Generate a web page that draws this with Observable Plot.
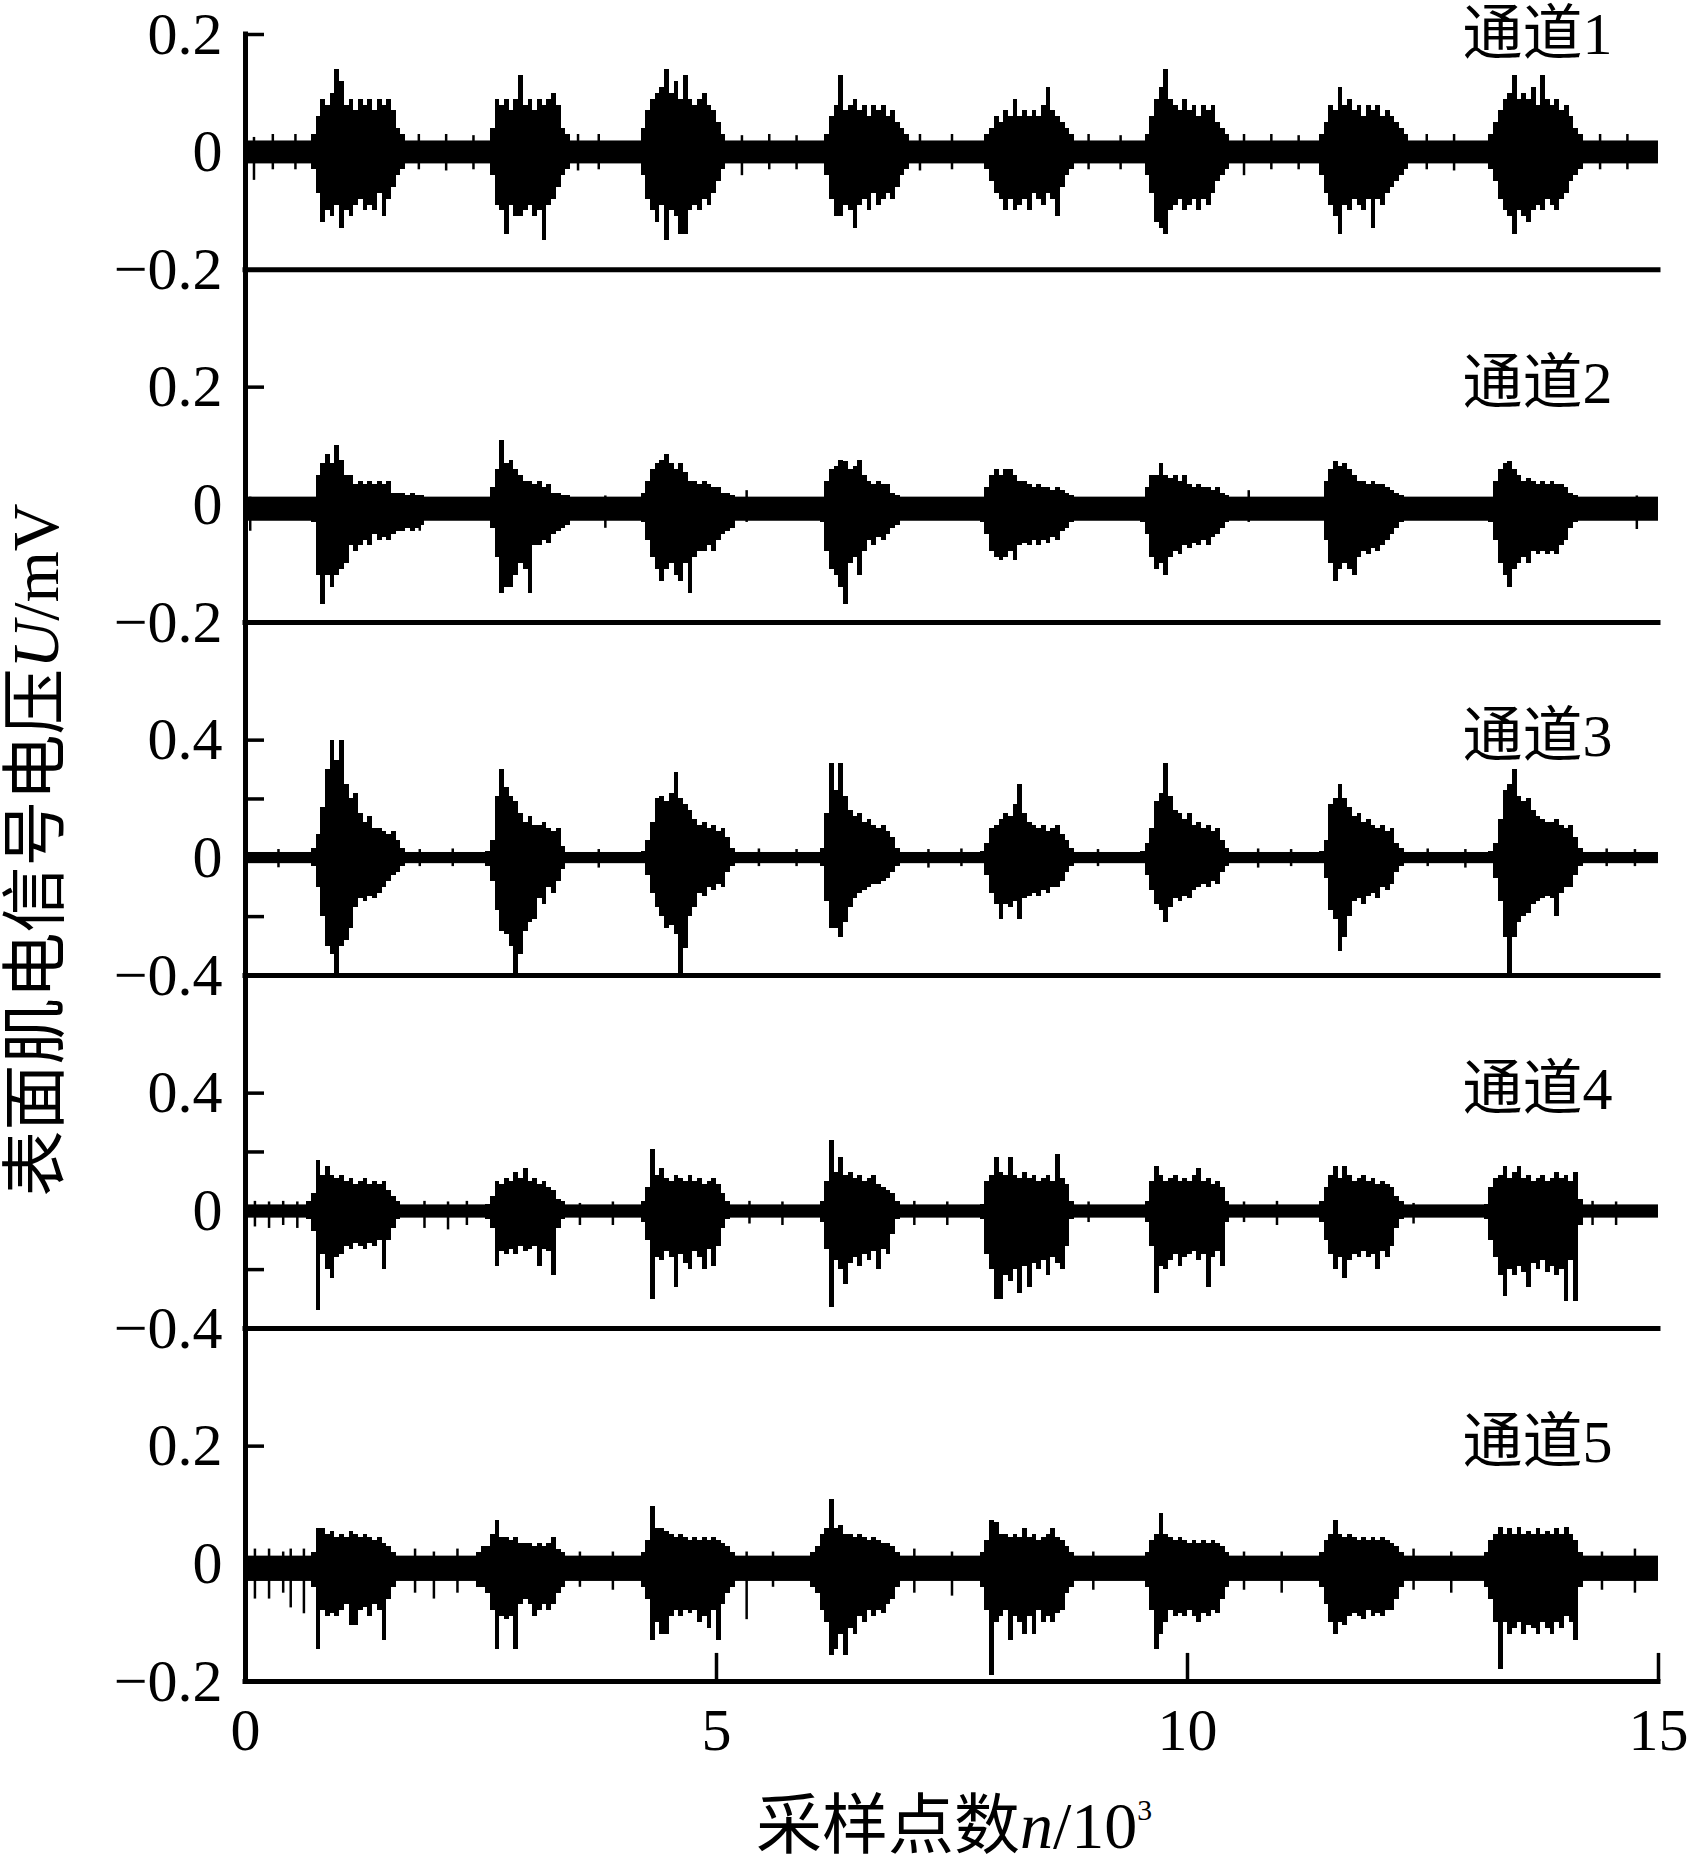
<!DOCTYPE html>
<html><head><meta charset="utf-8">
<script src="https://cdn.jsdelivr.net/npm/d3@7"></script>
<script src="https://cdn.jsdelivr.net/npm/@observablehq/plot@0.6"></script>
<style>
html,body{margin:0;padding:0;background:#fff;}
#chart{position:relative;width:1689px;height:1861px;overflow:hidden;background:#fff;}
#chart svg{position:absolute;left:0;overflow:visible;}
.title{position:absolute;white-space:nowrap;color:#000;font-family:'Liberation Serif','Noto Sans CJK SC',serif;font-size:66px;line-height:1;}
</style></head>
<body><div id="chart"></div>
<script>
// ---------- data (x in 10^3 samples, y in mV) ----------
const binWidth = 0.05;               // reading resolution of the envelope
const xDomain = [0, 15];
const xTicks = [0, 5, 10, 15];
const channelNames = ["通道1", "通道2", "通道3", "通道4", "通道5"];
const yDomains = [[-0.2, 0.2], [-0.2, 0.4], [-0.4, 0.8], [-0.4, 0.8], [-0.2, 0.4]];
const yTickLabels = [[-0.2, 0, 0.2], [-0.2, 0, 0.2], [-0.4, 0, 0.4], [-0.4, 0, 0.4], [-0.2, 0, 0.2]];
const yMinorTicks = [[], [], [-0.2, 0.2], [-0.2, 0.2], []];
const nameLevel = [0.2, 0.2, 0.4, 0.4, 0.2];

// channel 1
const ch1Base = [-0.02, 0.019];
const ch1Starts = [0.70, 2.60, 4.20, 6.15, 7.85, 9.55, 11.40, 13.20];
const ch1Hi = [
 [0.03,0.06,0.09,0.08,0.10,0.14,0.12,0.08,0.09,0.07,0.09,0.08,0.09,0.07,0.09,0.08,0.09,0.07,0.04,0.03],
 [0.04,0.09,0.08,0.09,0.07,0.09,0.13,0.08,0.09,0.07,0.09,0.08,0.09,0.10,0.08,0.04,0.03],
 [0.04,0.07,0.09,0.10,0.11,0.14,0.10,0.12,0.09,0.13,0.09,0.08,0.09,0.10,0.08,0.07,0.05,0.03],
 [0.03,0.06,0.08,0.13,0.07,0.08,0.09,0.07,0.08,0.06,0.08,0.07,0.08,0.06,0.07,0.05,0.04,0.03],
 [0.03,0.04,0.06,0.05,0.07,0.06,0.09,0.06,0.07,0.06,0.07,0.06,0.08,0.11,0.07,0.06,0.05,0.04,0.03],
 [0.03,0.06,0.09,0.11,0.14,0.09,0.08,0.07,0.09,0.07,0.08,0.06,0.08,0.07,0.08,0.05,0.04,0.03],
 [0.03,0.05,0.08,0.07,0.11,0.08,0.09,0.07,0.08,0.06,0.08,0.07,0.08,0.06,0.07,0.06,0.05,0.04,0.03],
 [0.03,0.05,0.07,0.09,0.10,0.13,0.09,0.10,0.09,0.11,0.08,0.13,0.09,0.08,0.09,0.07,0.08,0.06,0.04,0.03]
];
const ch1Lo = [
 [-0.03,-0.07,-0.12,-0.10,-0.11,-0.09,-0.13,-0.10,-0.11,-0.09,-0.08,-0.10,-0.09,-0.10,-0.07,-0.11,-0.08,-0.06,-0.04,-0.03],
 [-0.04,-0.09,-0.10,-0.14,-0.09,-0.11,-0.11,-0.10,-0.09,-0.11,-0.10,-0.15,-0.09,-0.08,-0.06,-0.04,-0.03],
 [-0.04,-0.08,-0.10,-0.12,-0.09,-0.15,-0.10,-0.11,-0.14,-0.14,-0.10,-0.09,-0.10,-0.08,-0.09,-0.07,-0.05,-0.03],
 [-0.04,-0.08,-0.11,-0.11,-0.09,-0.10,-0.13,-0.09,-0.08,-0.10,-0.07,-0.09,-0.08,-0.07,-0.08,-0.06,-0.04,-0.03],
 [-0.03,-0.05,-0.07,-0.08,-0.10,-0.08,-0.10,-0.09,-0.08,-0.10,-0.07,-0.08,-0.09,-0.07,-0.08,-0.11,-0.06,-0.04,-0.03],
 [-0.04,-0.07,-0.12,-0.13,-0.14,-0.10,-0.09,-0.08,-0.10,-0.09,-0.08,-0.10,-0.08,-0.09,-0.07,-0.05,-0.04,-0.03],
 [-0.04,-0.07,-0.09,-0.11,-0.14,-0.09,-0.10,-0.08,-0.09,-0.10,-0.08,-0.13,-0.08,-0.09,-0.07,-0.06,-0.05,-0.04,-0.03],
 [-0.03,-0.05,-0.08,-0.10,-0.11,-0.14,-0.10,-0.11,-0.12,-0.10,-0.09,-0.10,-0.08,-0.09,-0.10,-0.08,-0.07,-0.05,-0.04,-0.03]
];
const ch1Spikes = [[0.09,0.025,-0.048],[0.29,0.03,-0.03],[0.53,0.03,-0.03],[1.84,0.03,-0.03],[2.13,0.03,-0.032],[2.42,0.028,-0.03],[3.53,0.03,-0.032],[3.75,0.03,-0.03],[5.27,0.028,-0.04],[5.56,0.03,-0.03],[5.85,0.028,-0.03],[7.16,0.03,-0.032],[7.50,0.03,-0.03],[8.95,0.03,-0.03],[9.29,0.028,-0.03],[10.60,0.03,-0.04],[10.89,0.03,-0.03],[11.18,0.028,-0.03],[12.54,0.03,-0.03],[12.83,0.03,-0.032],[14.38,0.03,-0.03],[14.67,0.03,-0.03]];

// channel 2
const ch2Base = [-0.028, 0.013];
const ch2Starts = [0.70, 2.55, 4.20, 6.10, 7.80, 9.50, 11.40, 13.20];
const ch2Hi = [
 [0.01,0.05,0.07,0.085,0.07,0.10,0.075,0.05,0.05,0.035,0.04,0.035,0.04,0.035,0.04,0.035,0.04,0.02,0.02,0.02,0.015,0.02,0.015,0.015],
 [0.01,0.03,0.06,0.11,0.07,0.075,0.06,0.05,0.04,0.04,0.035,0.04,0.03,0.035,0.02,0.02,0.015,0.015],
 [0.02,0.04,0.06,0.07,0.075,0.085,0.07,0.06,0.07,0.055,0.04,0.04,0.035,0.04,0.035,0.03,0.03,0.02,0.02,0.015],
 [0.01,0.04,0.06,0.065,0.075,0.074,0.06,0.065,0.075,0.05,0.04,0.035,0.04,0.035,0.035,0.02,0.015],
 [0.01,0.03,0.05,0.06,0.05,0.06,0.06,0.05,0.04,0.04,0.035,0.03,0.035,0.03,0.03,0.025,0.03,0.025,0.02,0.015],
 [0.01,0.03,0.05,0.05,0.07,0.05,0.045,0.05,0.04,0.05,0.035,0.03,0.035,0.03,0.03,0.025,0.03,0.02,0.015],
 [0.01,0.04,0.06,0.074,0.065,0.07,0.06,0.05,0.04,0.04,0.035,0.04,0.035,0.035,0.03,0.025,0.02,0.015],
 [0.01,0.04,0.06,0.07,0.074,0.06,0.05,0.04,0.045,0.04,0.035,0.04,0.035,0.04,0.035,0.035,0.03,0.02,0.015]
];
const ch2Lo = [
 [-0.03,-0.12,-0.17,-0.12,-0.14,-0.12,-0.11,-0.10,-0.07,-0.08,-0.07,-0.06,-0.07,-0.05,-0.06,-0.055,-0.06,-0.05,-0.045,-0.045,-0.04,-0.045,-0.04,-0.035],
 [-0.02,-0.04,-0.09,-0.15,-0.14,-0.14,-0.12,-0.10,-0.11,-0.15,-0.07,-0.07,-0.06,-0.065,-0.05,-0.045,-0.04,-0.035],
 [-0.03,-0.06,-0.09,-0.11,-0.13,-0.11,-0.10,-0.12,-0.13,-0.10,-0.15,-0.09,-0.08,-0.08,-0.07,-0.08,-0.06,-0.05,-0.045,-0.04],
 [-0.03,-0.08,-0.11,-0.12,-0.14,-0.17,-0.10,-0.09,-0.12,-0.08,-0.06,-0.07,-0.055,-0.06,-0.05,-0.04,-0.035],
 [-0.03,-0.05,-0.08,-0.09,-0.095,-0.09,-0.08,-0.095,-0.07,-0.065,-0.07,-0.06,-0.07,-0.06,-0.065,-0.055,-0.06,-0.045,-0.04,-0.03],
 [-0.03,-0.05,-0.09,-0.11,-0.10,-0.12,-0.09,-0.08,-0.085,-0.07,-0.075,-0.065,-0.07,-0.06,-0.07,-0.055,-0.05,-0.04,-0.03],
 [-0.02,-0.06,-0.10,-0.13,-0.11,-0.10,-0.11,-0.12,-0.09,-0.08,-0.085,-0.075,-0.08,-0.07,-0.06,-0.05,-0.04,-0.03],
 [-0.03,-0.06,-0.10,-0.12,-0.14,-0.11,-0.10,-0.09,-0.10,-0.08,-0.085,-0.08,-0.085,-0.08,-0.085,-0.07,-0.06,-0.04,-0.03]
];
const ch2Spikes = [[0.05,0.013,-0.045],[1.85,0.015,-0.045],[3.82,0.015,-0.04],[5.32,0.024,-0.03],[10.65,0.024,-0.03],[14.77,0.015,-0.042]];

// channel 3
const ch3Base = [-0.02, 0.018];
const ch3Starts = [0.70, 2.55, 4.20, 6.10, 7.80, 9.50, 11.40, 13.20];
const ch3Hi = [
 [0.03,0.08,0.17,0.30,0.40,0.33,0.40,0.25,0.20,0.22,0.15,0.12,0.14,0.10,0.10,0.09,0.08,0.09,0.06,0.03],
 [0.02,0.06,0.21,0.30,0.24,0.21,0.19,0.15,0.12,0.14,0.11,0.11,0.12,0.10,0.09,0.10,0.04],
 [0.02,0.06,0.12,0.20,0.21,0.19,0.22,0.29,0.20,0.18,0.16,0.13,0.11,0.12,0.10,0.11,0.09,0.10,0.07,0.03],
 [0.03,0.15,0.32,0.23,0.32,0.21,0.16,0.14,0.15,0.12,0.13,0.11,0.10,0.11,0.09,0.07,0.03],
 [0.02,0.05,0.10,0.11,0.13,0.15,0.14,0.18,0.25,0.15,0.12,0.11,0.10,0.11,0.09,0.10,0.11,0.08,0.06,0.03],
 [0.02,0.05,0.10,0.19,0.22,0.32,0.21,0.16,0.15,0.13,0.15,0.11,0.12,0.10,0.11,0.09,0.10,0.06,0.03],
 [0.02,0.06,0.18,0.20,0.25,0.20,0.17,0.14,0.15,0.12,0.13,0.11,0.10,0.11,0.09,0.10,0.05,0.03],
 [0.02,0.05,0.13,0.23,0.25,0.30,0.21,0.19,0.20,0.16,0.14,0.13,0.12,0.12,0.13,0.11,0.10,0.11,0.07,0.03]
];
const ch3Lo = [
 [-0.03,-0.10,-0.20,-0.30,-0.33,-0.40,-0.30,-0.28,-0.24,-0.17,-0.14,-0.15,-0.13,-0.14,-0.12,-0.10,-0.08,-0.06,-0.05,-0.03],
 [-0.03,-0.08,-0.18,-0.25,-0.26,-0.30,-0.40,-0.33,-0.25,-0.22,-0.21,-0.14,-0.16,-0.10,-0.12,-0.08,-0.04],
 [-0.02,-0.06,-0.12,-0.17,-0.20,-0.24,-0.23,-0.26,-0.40,-0.31,-0.20,-0.17,-0.12,-0.13,-0.10,-0.11,-0.09,-0.10,-0.05,-0.03],
 [-0.03,-0.15,-0.24,-0.24,-0.27,-0.22,-0.17,-0.14,-0.12,-0.11,-0.10,-0.09,-0.09,-0.08,-0.07,-0.05,-0.03],
 [-0.02,-0.06,-0.12,-0.16,-0.21,-0.16,-0.17,-0.15,-0.21,-0.14,-0.13,-0.12,-0.13,-0.11,-0.12,-0.10,-0.10,-0.08,-0.05,-0.03],
 [-0.02,-0.06,-0.11,-0.16,-0.18,-0.22,-0.17,-0.14,-0.15,-0.13,-0.14,-0.11,-0.10,-0.09,-0.10,-0.08,-0.09,-0.05,-0.03],
 [-0.02,-0.07,-0.18,-0.21,-0.32,-0.27,-0.20,-0.15,-0.14,-0.16,-0.13,-0.12,-0.14,-0.10,-0.11,-0.09,-0.05,-0.03],
 [-0.02,-0.07,-0.15,-0.27,-0.40,-0.27,-0.22,-0.20,-0.19,-0.16,-0.15,-0.14,-0.13,-0.14,-0.20,-0.12,-0.10,-0.10,-0.06,-0.03]
];
const ch3Spikes = [[0.35,0.028,-0.034],[1.85,0.028,-0.03],[2.20,0.03,-0.03],[3.75,0.028,-0.035],[5.45,0.03,-0.03],[5.85,0.028,-0.03],[7.25,0.028,-0.035],[7.60,0.03,-0.03],[9.05,0.028,-0.03],[10.75,0.03,-0.035],[11.10,0.028,-0.03],[12.55,0.03,-0.03],[12.95,0.028,-0.035],[14.45,0.03,-0.03],[14.75,0.028,-0.03]];

// channel 4
const ch4Base = [-0.025, 0.02];
const ch4Starts = [0.65, 2.55, 4.20, 6.10, 7.80, 9.55, 11.40, 13.15];
const ch4Hi = [
 [0.03,0.06,0.17,0.12,0.15,0.12,0.11,0.12,0.10,0.11,0.09,0.10,0.11,0.09,0.10,0.09,0.10,0.07,0.05,0.03],
 [0.02,0.05,0.10,0.09,0.11,0.10,0.13,0.11,0.145,0.10,0.11,0.09,0.10,0.08,0.07,0.04,0.03],
 [0.03,0.08,0.21,0.12,0.145,0.11,0.10,0.12,0.11,0.10,0.12,0.10,0.11,0.09,0.10,0.11,0.09,0.06,0.03],
 [0.03,0.10,0.24,0.13,0.18,0.12,0.13,0.11,0.12,0.10,0.11,0.12,0.09,0.08,0.07,0.06,0.03],
 [0.02,0.10,0.12,0.18,0.13,0.12,0.18,0.12,0.11,0.13,0.11,0.12,0.10,0.11,0.12,0.10,0.19,0.11,0.09,0.03],
 [0.03,0.10,0.15,0.12,0.10,0.11,0.12,0.10,0.11,0.10,0.12,0.145,0.10,0.11,0.09,0.10,0.08,0.03],
 [0.03,0.08,0.12,0.15,0.11,0.15,0.12,0.10,0.11,0.12,0.10,0.11,0.09,0.10,0.09,0.08,0.05,0.03],
 [0.02,0.08,0.11,0.12,0.15,0.11,0.13,0.15,0.11,0.12,0.10,0.11,0.12,0.10,0.11,0.13,0.11,0.12,0.10,0.13,0.04]
];
const ch4Lo = [
 [-0.03,-0.07,-0.34,-0.15,-0.20,-0.23,-0.16,-0.15,-0.12,-0.13,-0.11,-0.12,-0.13,-0.11,-0.12,-0.10,-0.20,-0.10,-0.06,-0.03],
 [-0.03,-0.06,-0.19,-0.14,-0.15,-0.13,-0.15,-0.12,-0.14,-0.13,-0.12,-0.19,-0.13,-0.14,-0.22,-0.06,-0.03],
 [-0.04,-0.10,-0.30,-0.16,-0.17,-0.14,-0.16,-0.26,-0.15,-0.18,-0.20,-0.14,-0.16,-0.20,-0.13,-0.19,-0.12,-0.06,-0.03],
 [-0.04,-0.13,-0.33,-0.17,-0.20,-0.25,-0.18,-0.16,-0.19,-0.15,-0.17,-0.14,-0.20,-0.13,-0.15,-0.08,-0.03],
 [-0.03,-0.15,-0.20,-0.30,-0.30,-0.22,-0.24,-0.20,-0.28,-0.19,-0.26,-0.18,-0.20,-0.17,-0.22,-0.16,-0.18,-0.20,-0.12,-0.03],
 [-0.04,-0.12,-0.28,-0.19,-0.20,-0.17,-0.15,-0.19,-0.16,-0.15,-0.14,-0.17,-0.15,-0.26,-0.16,-0.14,-0.19,-0.04],
 [-0.04,-0.10,-0.15,-0.20,-0.16,-0.23,-0.17,-0.15,-0.16,-0.14,-0.16,-0.15,-0.20,-0.14,-0.16,-0.12,-0.06,-0.03],
 [-0.03,-0.10,-0.16,-0.22,-0.29,-0.20,-0.22,-0.19,-0.21,-0.26,-0.18,-0.20,-0.17,-0.21,-0.19,-0.22,-0.20,-0.31,-0.17,-0.31,-0.05]
];
const ch4Spikes = [[0.10,0.032,-0.055],[0.25,0.03,-0.06],[0.40,0.032,-0.05],[0.55,0.03,-0.06],[1.90,0.032,-0.06],[2.15,0.03,-0.065],[2.35,0.032,-0.05],[3.55,0.025,-0.05],[3.90,0.03,-0.05],[5.35,0.032,-0.045],[5.70,0.03,-0.05],[7.10,0.032,-0.05],[7.45,0.03,-0.05],[8.95,0.03,-0.04],[10.60,0.03,-0.04],[10.95,0.032,-0.05],[12.40,0.025,-0.045],[14.30,0.032,-0.05],[14.55,0.03,-0.05]];

// channel 5
const ch5Base = [-0.03, 0.013];
const ch5Starts = [0.70, 2.45, 4.20, 6.00, 7.80, 9.55, 11.40, 13.15];
const ch5Hi = [
 [0.02,0.06,0.06,0.05,0.055,0.045,0.05,0.045,0.055,0.05,0.045,0.05,0.045,0.04,0.045,0.035,0.03,0.02],
 [0.02,0.03,0.03,0.05,0.074,0.045,0.045,0.04,0.045,0.035,0.035,0.035,0.03,0.035,0.03,0.035,0.045,0.025,0.02],
 [0.02,0.04,0.098,0.06,0.06,0.055,0.05,0.045,0.05,0.045,0.04,0.045,0.04,0.045,0.04,0.045,0.04,0.035,0.03,0.02],
 [0.02,0.03,0.05,0.06,0.11,0.06,0.065,0.05,0.05,0.045,0.05,0.045,0.04,0.045,0.04,0.035,0.035,0.03,0.02],
 [0.02,0.04,0.074,0.07,0.05,0.05,0.045,0.05,0.045,0.06,0.045,0.05,0.04,0.045,0.05,0.06,0.045,0.04,0.03,0.02],
 [0.02,0.04,0.05,0.085,0.05,0.045,0.04,0.045,0.04,0.035,0.04,0.035,0.04,0.035,0.04,0.035,0.03,0.02],
 [0.02,0.04,0.05,0.074,0.05,0.045,0.05,0.045,0.04,0.045,0.04,0.045,0.04,0.045,0.04,0.035,0.03,0.02],
 [0.02,0.04,0.05,0.062,0.05,0.06,0.05,0.062,0.05,0.055,0.05,0.06,0.05,0.055,0.05,0.06,0.05,0.062,0.05,0.04,0.02]
];
const ch5Lo = [
 [-0.04,-0.145,-0.08,-0.09,-0.085,-0.09,-0.08,-0.07,-0.105,-0.105,-0.08,-0.075,-0.09,-0.07,-0.08,-0.13,-0.06,-0.04],
 [-0.04,-0.04,-0.05,-0.08,-0.145,-0.09,-0.095,-0.09,-0.145,-0.07,-0.06,-0.07,-0.09,-0.08,-0.07,-0.08,-0.07,-0.05,-0.04],
 [-0.04,-0.06,-0.13,-0.10,-0.12,-0.12,-0.09,-0.08,-0.09,-0.08,-0.085,-0.08,-0.10,-0.09,-0.11,-0.08,-0.13,-0.07,-0.05,-0.04],
 [-0.04,-0.05,-0.08,-0.10,-0.156,-0.145,-0.12,-0.156,-0.11,-0.12,-0.09,-0.10,-0.08,-0.09,-0.08,-0.085,-0.07,-0.06,-0.04],
 [-0.04,-0.08,-0.19,-0.10,-0.09,-0.08,-0.13,-0.09,-0.10,-0.12,-0.09,-0.12,-0.08,-0.10,-0.09,-0.10,-0.085,-0.08,-0.05,-0.04],
 [-0.04,-0.08,-0.145,-0.12,-0.10,-0.08,-0.09,-0.085,-0.09,-0.08,-0.09,-0.10,-0.085,-0.09,-0.08,-0.085,-0.06,-0.04],
 [-0.04,-0.07,-0.10,-0.12,-0.10,-0.105,-0.09,-0.085,-0.09,-0.095,-0.08,-0.09,-0.085,-0.09,-0.08,-0.08,-0.06,-0.04],
 [-0.04,-0.06,-0.10,-0.18,-0.10,-0.12,-0.11,-0.10,-0.12,-0.105,-0.11,-0.12,-0.10,-0.11,-0.12,-0.10,-0.11,-0.09,-0.10,-0.13,-0.04]
];
const ch5Spikes = [[0.10,0.025,-0.06],[0.25,0.025,-0.06],[0.40,0.02,-0.05],[0.48,0.025,-0.075],[0.62,0.025,-0.085],[1.80,0.025,-0.05],[2.00,0.02,-0.06],[2.25,0.025,-0.05],[3.55,0.02,-0.04],[3.90,0.02,-0.045],[5.32,0.02,-0.095],[5.60,0.02,-0.04],[7.10,0.025,-0.05],[7.50,0.02,-0.055],[9.00,0.02,-0.045],[10.60,0.02,-0.045],[11.00,0.02,-0.05],[12.40,0.025,-0.045],[12.80,0.02,-0.05],[14.40,0.02,-0.045],[14.75,0.025,-0.05]];

const channels = [
  {base: ch1Base, starts: ch1Starts, hi: ch1Hi, lo: ch1Lo, spikes: ch1Spikes},
  {base: ch2Base, starts: ch2Starts, hi: ch2Hi, lo: ch2Lo, spikes: ch2Spikes},
  {base: ch3Base, starts: ch3Starts, hi: ch3Hi, lo: ch3Lo, spikes: ch3Spikes},
  {base: ch4Base, starts: ch4Starts, hi: ch4Hi, lo: ch4Lo, spikes: ch4Spikes},
  {base: ch5Base, starts: ch5Starts, hi: ch5Hi, lo: ch5Lo, spikes: ch5Spikes}
];

// ---------- layout ----------
const W = 1689, H = 1861, marginLeft = 245, marginRight = 31;
const plotTop = 34, plotBottom = 1681;
const panelUnits = [2, 3, 3, 3, 3];
const unitPx = (plotBottom - plotTop) / d3.sum(panelUnits);
const plotW = W - marginLeft - marginRight;
const serif = "'Liberation Serif','Noto Sans CJK SC',serif";
const fmt = d => d < 0 ? "\u2212" + (-d) : String(d);

function binsOf(ch) {
  const rows = [];
  ch.starts.forEach((s, b) => {
    const n = Math.min(ch.hi[b].length, ch.lo[b].length);
    for (let i = 0; i < n; i++) rows.push({x1: s + i * binWidth, x2: s + (i + 1) * binWidth, y1: ch.lo[b][i], y2: ch.hi[b][i]});
  });
  return rows;
}

const root = document.getElementById("chart");
let panelTop = plotTop;
channels.forEach((ch, k) => {
  const last = k === channels.length - 1;
  const panelH = panelUnits[k] * unitPx;
  const mt = k === 0 ? plotTop : 50;
  const mb = last ? H - plotBottom : 50;
  const dom = yDomains[k];
  const tickVals = yTickLabels[k].concat(yMinorTicks[k]).filter(v => v !== dom[0]);
  const marks = [
    Plot.rect([ch.base], {x1: () => xDomain[0], x2: () => xDomain[1], y1: d => d[0], y2: d => d[1], fill: "black"}),
    Plot.rect(binsOf(ch), {x1: "x1", x2: "x2", y1: "y1", y2: "y2", fill: "black", shapeRendering: "crispEdges"}),
    Plot.ruleX(ch.spikes, {x: d => d[0], y1: d => d[2], y2: d => d[1], stroke: "black", strokeWidth: 2.5}),
    Plot.ruleX([xDomain[0]], {stroke: "black", strokeWidth: 5, strokeLinecap: "square"}),
    Plot.ruleY([dom[0]], {stroke: "black", strokeWidth: 5, strokeLinecap: "square"}),
    Plot.ruleY(tickVals, {stroke: "black", strokeWidth: 3.5, insetRight: plotW - 19}),
    Plot.axisY(yTickLabels[k], {tickSize: 0, tickPadding: 23, tickFormat: fmt, label: null, fontSize: 60}),
    Plot.text([channelNames[k]], {frameAnchor: "right", y: () => nameLevel[k], text: d => d, textAnchor: "end", dx: -46, dy: k === 0 ? 0 : -3, fontSize: 60})
  ];
  if (last) {
    marks.push(Plot.ruleX(xTicks.filter(v => v !== xDomain[0]), {stroke: "black", strokeWidth: 3.5, insetTop: panelH - 28}));
    marks.push(Plot.axisX(xTicks, {tickSize: 0, tickPadding: 26, label: null, fontSize: 60}));
  }
  const svg = Plot.plot({
    width: W, height: mt + panelH + mb,
    marginLeft, marginRight, marginTop: mt, marginBottom: mb,
    x: {domain: xDomain, label: null, axis: last ? undefined : null},
    y: {domain: dom, label: null},
    style: {background: "transparent", overflow: "visible", fontFamily: serif, fontSize: "60px", color: "black"},
    marks
  });
  svg.style.top = (panelTop - mt) + "px";
  root.appendChild(svg);
  panelTop += panelH;
});

// axis titles
const yt = document.createElement("div");
yt.className = "title";
yt.innerHTML = "表面肌电信号电压<i>U</i>/mV";
yt.style.left = "36px"; yt.style.top = "850px";
yt.style.transform = "translate(-50%,-50%) rotate(-90deg)";
root.appendChild(yt);
const xt = document.createElement("div");
xt.className = "title";
xt.innerHTML = "采样点数<i>n</i>/10<span style=\"font-size:0.45em;vertical-align:0.95em\">3</span>";
xt.style.left = "954px"; xt.style.top = "1826px";
xt.style.transform = "translate(-50%,-50%)";
root.appendChild(xt);
</script></body></html>
